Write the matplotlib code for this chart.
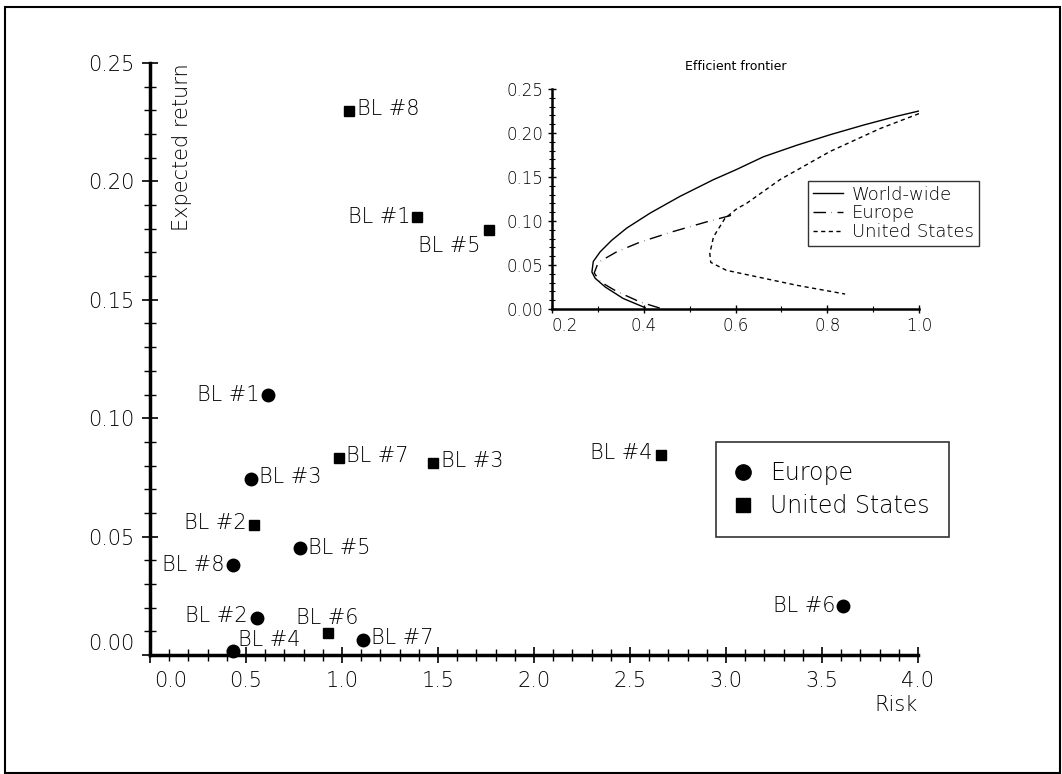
import numpy as np
import matplotlib.pyplot as plt
from matplotlib.ticker import MultipleLocator, FormatStrFormatter
from matplotlib.patches import Rectangle
import matplotlib.transforms as mtrans

plt.rcParams['font.family'] = 'DejaVu Sans'
plt.rcParams['font.weight'] = 'light'

# Black-Litterman portfolios: risk / expected return
eu_names = ['BL #1', 'BL #2', 'BL #3', 'BL #4', 'BL #5', 'BL #6', 'BL #7', 'BL #8']
eu_risk = [0.617, 0.556, 0.524, 0.434, 0.781, 3.611, 1.111, 0.431]
eu_ret = [0.110, 0.0155, 0.0743, 0.0018, 0.0451, 0.0207, 0.0063, 0.0379]

us_names = ['BL #1', 'BL #2', 'BL #3', 'BL #4', 'BL #5', 'BL #6', 'BL #7', 'BL #8']
us_risk = [1.392, 0.543, 1.472, 2.660, 1.766, 0.925, 0.986, 1.036]
us_ret = [0.1848, 0.0549, 0.0809, 0.0845, 0.1795, 0.0092, 0.0831, 0.2296]

# efficient frontiers (inset)
ww_risk = [0.403, 0.355, 0.316, 0.294, 0.287, 0.290, 0.305, 0.330, 0.363, 0.414,
           0.479, 0.552, 0.600, 0.661, 0.733, 0.806, 0.879, 0.951, 1.0]
ww_ret = [0.0015, 0.012, 0.025, 0.035, 0.042, 0.054, 0.065, 0.078, 0.092, 0.109,
          0.128, 0.147, 0.158, 0.173, 0.186, 0.198, 0.209, 0.219, 0.225]
eur_risk = [0.435, 0.392, 0.341, 0.305, 0.292, 0.301, 0.341, 0.392, 0.464, 0.537, 0.595]
eur_ret = [0.001, 0.008, 0.020, 0.031, 0.041, 0.053, 0.065, 0.076, 0.088, 0.099, 0.107]
usa_risk = [1.0, 0.915, 0.806, 0.697, 0.624, 0.603, 0.577, 0.552, 0.544, 0.546,
            0.580, 0.661, 0.733, 0.839]
usa_ret = [0.222, 0.205, 0.179, 0.147, 0.120, 0.114, 0.103, 0.082, 0.063, 0.053,
           0.044, 0.035, 0.027, 0.017]

# label placement (pixel offset, alignment)
eu_lab = [(-9, 0, 'right'), (-9, 2, 'right'), (8, 2, 'left'), (5, 11, 'left'),
          (8, 0, 'left'), (-8, 0, 'right'), (8, 2, 'left'), (-8, 0, 'right')]
us_lab = [(-7, 0, 'right'), (-8, 2, 'right'), (8, 2, 'left'), (-8, 2, 'right'),
          (-9, -16, 'right'), (0, 15, 'center'), (7, 2, 'left'), (8, 2, 'left')]


def shift_label(axis, value, dx, dy):
    # move one tick label away from the axis line
    locs = list(np.round(axis.get_majorticklocs(), 4))
    i = locs.index(round(value, 4))
    lab = axis.get_major_ticks()[i].label1
    lab.set_transform(lab.get_transform() + mtrans.ScaledTranslation(dx, dy, fig.dpi_scale_trans))


fig = plt.figure(figsize=(10.62, 7.74), dpi=100)
fig.patches.append(Rectangle((5/1062, 1/774), 1055/1062, 766/774, transform=fig.transFigure,
                             fill=False, edgecolor='black', linewidth=1.5))

ax = fig.add_axes([150/1062, 1-655/774, 768/1062, 592/774])
ax.plot(eu_risk, eu_ret, 'o', color='black', markersize=9, label='Europe', clip_on=False)
ax.plot(us_risk, us_ret, 's', color='black', markersize=7, label='United States', clip_on=False)
for n, x, y, (dx, dy, ha) in zip(eu_names, eu_risk, eu_ret, eu_lab):
    ax.annotate(n, (x, y), xytext=(dx, dy), textcoords='offset pixels',
                ha=ha, va='center', fontsize=15)
for n, x, y, (dx, dy, ha) in zip(us_names, us_risk, us_ret, us_lab):
    ax.annotate(n, (x, y), xytext=(dx, dy), textcoords='offset pixels',
                ha=ha, va='center', fontsize=15)

ax.set_xlim(0, 4.0)
ax.set_ylim(0, 0.25)
ax.xaxis.set_major_locator(MultipleLocator(0.5))
ax.xaxis.set_minor_locator(MultipleLocator(0.1))
ax.yaxis.set_major_locator(MultipleLocator(0.05))
ax.yaxis.set_minor_locator(MultipleLocator(0.01))
ax.xaxis.set_major_formatter(FormatStrFormatter('%.1f'))
ax.yaxis.set_major_formatter(FormatStrFormatter('%.2f'))
for s in ['top', 'right']:
    ax.spines[s].set_visible(False)
for s in ['left', 'bottom']:
    ax.spines[s].set_linewidth(2.5)
ax.tick_params(which='major', direction='inout', length=11, width=1.2, labelsize=15, pad=6)
ax.tick_params(which='minor', direction='inout', length=9, width=1.0)
shift_label(ax.xaxis, 0.0, 0.21, 0)
shift_label(ax.yaxis, 0.0, 0, 0.13)

fig.text(182/1062, 1-63/774, 'Expected return', rotation=90, ha='center', va='top', fontsize=15)
fig.text(918/1062, 1-705/774, 'Risk', ha='right', va='center', fontsize=15)

leg = ax.legend(loc='upper left', bbox_to_anchor=(716/1062, 1-442/774),
                bbox_transform=fig.transFigure, fontsize=17, frameon=True, fancybox=False,
                handlelength=0.7, handletextpad=0.8, borderpad=0.8, labelspacing=0.4,
                borderaxespad=0)
leg.get_frame().set_edgecolor('black')
leg.get_frame().set_linewidth(1.2)
leg.legend_handles[0].set_markersize(11)
leg.legend_handles[1].set_markersize(10)

# inset with efficient frontiers
ins = fig.add_axes([552/1062, 1-309/774, 367/1062, 220/774])
ins.plot(ww_risk, ww_ret, '-', color='black', linewidth=1.0, label='World-wide')
ins.plot(eur_risk, eur_ret, color='black', linewidth=1.0, linestyle=(0, (9, 4, 0.3, 4)), label='Europe')
ins.plot(usa_risk, usa_ret, color='black', linewidth=1.0, linestyle=(0, (3, 2.5)), label='United States')
ins.set_xlim(0.2, 1.0)
ins.set_ylim(0, 0.25)
ins.xaxis.set_major_locator(MultipleLocator(0.2))
ins.xaxis.set_minor_locator(MultipleLocator(0.1))
ins.yaxis.set_major_locator(MultipleLocator(0.05))
ins.yaxis.set_minor_locator(MultipleLocator(0.01))
ins.xaxis.set_major_formatter(FormatStrFormatter('%.1f'))
ins.yaxis.set_major_formatter(FormatStrFormatter('%.2f'))
for s in ['top', 'right']:
    ins.spines[s].set_visible(False)
for s in ['left', 'bottom']:
    ins.spines[s].set_linewidth(1.8)
ins.tick_params(which='major', direction='inout', length=6, width=1.0, labelsize=12, pad=3)
ins.tick_params(which='minor', direction='inout', length=4, width=0.8)
shift_label(ins.xaxis, 0.2, 0.13, 0)
ins.set_title('Efficient frontier', fontsize=9, pad=14)
ileg = ins.legend(loc='upper left', bbox_to_anchor=(808/1062, 1-181/774),
                  bbox_transform=fig.transFigure, fontsize=13, frameon=True, fancybox=False,
                  handlelength=1.7, handletextpad=0.5, borderpad=0.25, labelspacing=0.05,
                  borderaxespad=0)
ileg.get_frame().set_edgecolor('black')
ileg.get_frame().set_linewidth(1.0)

plt.savefig('out.png', dpi=100)
